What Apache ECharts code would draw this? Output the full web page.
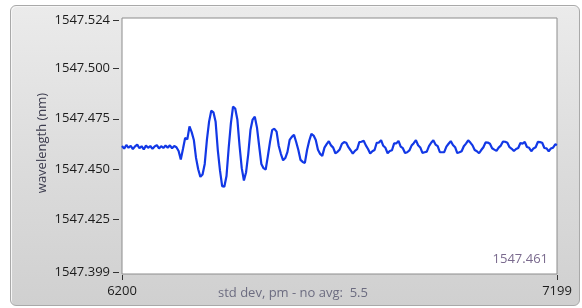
<!DOCTYPE html>
<html>
<head>
<meta charset="utf-8">
<script src="https://cdn.jsdelivr.net/npm/echarts@6/dist/echarts.min.js"></script>
<style>
  html, body { margin: 0; padding: 0; background: #ffffff; }
  #wrap { position: relative; width: 582px; height: 308px; overflow: hidden; }
  #panel { position: absolute; left: 10px; top: 5px; width: 568px; height: 299px;
    border: 1px solid #a9a9a9; border-radius: 6px;
    background: linear-gradient(to bottom, #ebebeb 0%, #dadada 60%, #d0d0d0 100%);
    box-shadow: inset 1px 1px 0 #f6f6f6; }
  #chart { position: absolute; left: 0; top: 0; width: 582px; height: 308px; }
</style>
</head>
<body>
<div id="wrap">
  <div id="panel"></div>
  <div id="chart"></div>
</div>
<script>
// ---- data ----
const sampleX = [
  6200,6205,6210,6215,6220,6225,6230,6235,6240,6245,
  6250,6255,6260,6265,6270,6275,6280,6285,6290,6295,
  6300,6305,6310,6315,6320,6325,6330,6335,6340,6345,
  6350,6355,6360,6365,6370,6375,6380,6385,6390,6395,
  6400,6405,6410,6415,6420,6425,6430,6435,6440,6445,
  6450,6455,6460,6465,6470,6475,6480,6485,6490,6495,
  6500,6505,6510,6515,6520,6525,6530,6535,6540,6545,
  6550,6555,6560,6565,6570,6575,6580,6585,6590,6595,
  6600,6605,6610,6615,6620,6625,6630,6635,6640,6645,
  6650,6655,6660,6665,6670,6675,6680,6685,6690,6695,
  6700,6705,6710,6715,6720,6725,6730,6735,6740,6745,
  6750,6755,6760,6765,6770,6775,6780,6785,6790,6795,
  6800,6805,6810,6815,6820,6825,6830,6835,6840,6845,
  6850,6855,6860,6865,6870,6875,6880,6885,6890,6895,
  6900,6905,6910,6915,6920,6925,6930,6935,6940,6945,
  6950,6955,6960,6965,6970,6975,6980,6985,6990,6995,
  7000,7005,7010,7015,7020,7025,7030,7035,7040,7045,
  7050,7055,7060,7065,7070,7075,7080,7085,7090,7095,
  7100,7105,7110,7115,7120,7125,7130,7135,7140,7145,
  7150,7155,7160,7165,7170,7175,7180,7185,7190,7195,
  7199
];
const wavelength = [
  1547.4615,1547.4602,1547.4620,1547.4606,1547.4616,1547.4600,1547.4613,1547.4622,1547.4604,1547.4614,
  1547.4598,1547.4617,1547.4606,1547.4615,1547.4601,1547.4613,1547.4619,1547.4603,1547.4614,1547.4605,
  1547.4617,1547.4607,1547.4618,1547.4604,1547.4615,1547.4609,1547.4590,1547.4548,1547.4600,1547.4655,
  1547.4648,1547.4712,1547.4684,1547.4645,1547.4556,1547.4500,1547.4462,1547.4474,1547.4526,1547.4645,
  1547.4736,1547.4790,1547.4782,1547.4735,1547.4595,1547.4494,1547.4416,1547.4413,1547.4466,1547.4605,
  1547.4726,1547.4810,1547.4801,1547.4745,1547.4615,1547.4505,1547.4444,1547.4485,1547.4576,1547.4694,
  1547.4746,1547.4760,1547.4706,1547.4615,1547.4526,1547.4505,1547.4498,1547.4565,1547.4636,1547.4695,
  1547.4700,1547.4686,1547.4615,1547.4575,1547.4544,1547.4555,1547.4586,1547.4645,1547.4660,1547.4670,
  1547.4635,1547.4595,1547.4546,1547.4536,1547.4531,1547.4595,1547.4641,1547.4675,1547.4667,1547.4645,
  1547.4596,1547.4576,1547.4566,1547.4607,1547.4624,1547.4639,1547.4618,1547.4607,1547.4579,1547.4586,
  1547.4598,1547.4626,1547.4634,1547.4631,1547.4609,1547.4594,1547.4577,1547.4591,1547.4599,1547.4634,
  1547.4636,1547.4641,1547.4618,1547.4600,1547.4578,1547.4589,1547.4595,1547.4631,1547.4632,1547.4644,
  1547.4616,1547.4606,1547.4579,1547.4590,1547.4594,1547.4628,1547.4628,1547.4640,1547.4612,1547.4604,
  1547.4580,1547.4584,1547.4593,1547.4617,1547.4629,1547.4644,1547.4619,1547.4608,1547.4581,1547.4584,
  1547.4587,1547.4614,1547.4631,1547.4643,1547.4622,1547.4614,1547.4584,1547.4584,1547.4585,1547.4612,
  1547.4626,1547.4639,1547.4620,1547.4609,1547.4580,1547.4584,1547.4589,1547.4614,1547.4627,1547.4643,
  1547.4632,1547.4618,1547.4595,1547.4589,1547.4579,1547.4595,1547.4609,1547.4633,1547.4632,1547.4626,
  1547.4604,1547.4597,1547.4591,1547.4607,1547.4617,1547.4637,1547.4636,1547.4631,1547.4609,1547.4601,
  1547.4590,1547.4600,1547.4605,1547.4630,1547.4627,1547.4635,1547.4610,1547.4606,1547.4589,1547.4603,
  1547.4609,1547.4635,1547.4634,1547.4631,1547.4605,1547.4603,1547.4588,1547.4603,1547.4607,1547.4623,
  1547.4620
];
const xTickLabels = [6200, 7199];
const yTickLabels = [1547.399, 1547.425, 1547.450, 1547.475, 1547.500, 1547.524];
const yAxisTitle = 'wavelength (nm)';
const statusText = 'std dev, pm - no avg:  5.5';
const currentValueText = '1547.461';

// ---- chart ----
const FONT = '"Open Sans", "Noto Sans", sans-serif';
const chart = echarts.init(document.getElementById('chart'), null, { renderer: 'canvas' });
const points = sampleX.map((x, i) => [x, wavelength[i]]);

chart.setOption({
  animation: false,
  backgroundColor: 'transparent',
  grid: {
    left: 122, right: 25, top: 18, bottom: 34,
    show: true, backgroundColor: '#ffffff',
    borderColor: '#8c8c8c', borderWidth: 1
  },
  xAxis: {
    type: 'value', min: 6200, max: 7199, offset: 1,
    axisLine: { show: false },
    splitLine: { show: false },
    axisTick: { show: true, length: 5, customValues: xTickLabels,
      lineStyle: { color: '#333', width: 1 } },
    axisLabel: { customValues: xTickLabels, margin: 10,
      color: '#1c1c1c', fontSize: 13, fontFamily: FONT,
      formatter: v => String(v) }
  },
  yAxis: {
    type: 'value', min: 1547.398, max: 1547.525, offset: 3,
    axisLine: { show: false },
    splitLine: { show: false },
    axisTick: { show: true, length: 6, customValues: yTickLabels,
      lineStyle: { color: '#333', width: 1 } },
    axisLabel: { customValues: yTickLabels, margin: 9,
      color: '#1c1c1c', fontSize: 13, fontFamily: FONT,
      formatter: v => Number(v).toFixed(3) }
  },
  graphic: [
    { type: 'text', x: 42, y: 143, rotation: Math.PI / 2,
      style: { text: yAxisTitle, fill: '#3c3c4e', font: '13px ' + FONT,
        textAlign: 'center', textVerticalAlign: 'middle' } },
    { type: 'text', x: 218, y: 293,
      style: { text: statusText, fill: '#6c6c80', font: '13px ' + FONT,
        textAlign: 'left', textVerticalAlign: 'middle' } },
    { type: 'text', x: 548, y: 259, z: 10,
      style: { text: currentValueText, fill: '#7a6a8e', font: '13px ' + FONT,
        textAlign: 'right', textVerticalAlign: 'middle' } }
  ],
  series: [{
    type: 'line',
    data: points,
    showSymbol: false,
    smooth: false,
    lineStyle: { color: '#1238e6', width: 2.2 },
    itemStyle: { color: '#1238e6' }
  }]
});
</script>
</body>
</html>
